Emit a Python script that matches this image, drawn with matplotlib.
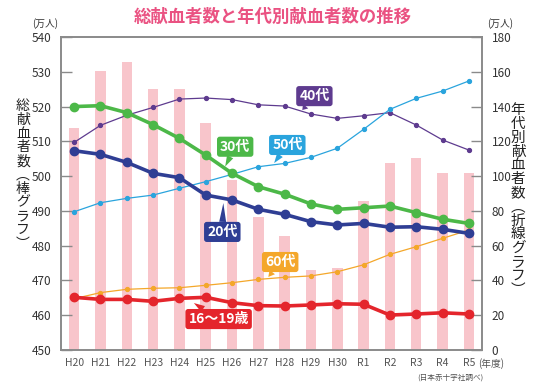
import matplotlib
matplotlib.use("Agg")
import matplotlib.pyplot as plt
import numpy as np

plt.rcParams['font.family'] = ['Noto Sans CJK JP', 'DejaVu Sans']

years = ["H20", "H21", "H22", "H23", "H24", "H25", "H26", "H27", "H28", "H29",
         "H30", "R1", "R2", "R3", "R4", "R5"]
total = [513.8, 530.2, 532.9, 525.0, 525.0, 515.4, 498.9, 488.2, 482.8, 473.0,
         473.5, 492.7, 503.9, 505.3, 500.8, 501.0]
age_40s = [119.4, 129.2, 135.0, 139.5, 144.3, 144.9, 144.0, 141.0, 140.3, 135.7,
           133.2, 134.7, 136.5, 129.4, 120.8, 115.0]
age_50s = [79.5, 84.7, 87.2, 89.1, 93.0, 96.8, 101.0, 105.4, 107.3, 110.8,
           116.0, 126.9, 138.4, 144.7, 148.9, 154.7]
age_30s = [140.0, 140.5, 136.5, 129.6, 121.7, 112.1, 101.6, 93.9, 89.6, 84.0,
           80.9, 81.8, 82.8, 79.0, 75.2, 72.8]
age_20s = [114.6, 112.5, 107.9, 101.6, 99.1, 89.1, 86.3, 80.9, 78.0, 73.8,
           71.9, 72.8, 70.6, 70.9, 69.4, 67.1]
age_60s = [29.5, 33.0, 34.9, 35.5, 35.8, 37.2, 38.7, 40.6, 41.8, 42.6,
           45.0, 49.0, 55.0, 59.4, 64.2, 69.0]
age_16_19 = [30.3, 29.1, 29.1, 28.0, 29.7, 30.3, 27.2, 25.5, 25.3, 25.9,
             26.6, 26.3, 20.1, 20.7, 21.4, 20.7]

left_ticks = [450, 460, 470, 480, 490, 500, 510, 520, 530, 540]
right_ticks = [0, 20, 40, 60, 80, 100, 120, 140, 160, 180]

title = "総献血者数と年代別献血者数の推移"
left_label = "総献血者数︵棒グラフ︶"
right_label = "年代別献血者数︵折線グラフ︶"

C_GREEN = "#4cb848"
C_NAVY = "#2f3e94"
C_PURPLE = "#5e3b8f"
C_BLUE = "#2aa4dd"
C_ORANGE = "#f4a72a"
C_RED = "#e4252c"
C_BAR = "#f8c5cb"
C_SPINE = "#8a8a8a"
C_TEXT = "#333333"

fig = plt.figure(figsize=(5.36, 3.91), dpi=100)
ax = fig.add_axes([61/536, 1-350/391, (482-61)/536, (350-37)/391])
ax2 = ax.twinx()

x = np.arange(len(years))
ax.bar(x, [t - 450 for t in total], bottom=450, width=0.4, color=C_BAR, zorder=1)
ax.set_ylim(450, 540)
ax.set_xlim(-0.5, 15.5)
ax.set_yticks(left_ticks)
ax.set_xticks(x)
ax.set_xticklabels(years)

ax2.set_ylim(0, 180)
ax2.set_yticks(right_ticks)

# thin lines
ax2.plot(x, age_40s, color=C_PURPLE, lw=0.9, marker='o', ms=2.8, zorder=3)
ax2.plot(x, age_50s, color=C_BLUE, lw=0.9, marker='o', ms=2.8, zorder=3)
ax2.plot(x, age_60s, color=C_ORANGE, lw=0.9, marker='o', ms=2.8, zorder=3)
# thick lines
ax2.plot(x, age_30s, color=C_GREEN, lw=2.6, marker='o', ms=6, zorder=4)
ax2.plot(x, age_20s, color=C_NAVY, lw=2.6, marker='o', ms=6, zorder=4)
ax2.plot(x, age_16_19, color=C_RED, lw=2.6, marker='o', ms=6, zorder=4)

for a in (ax, ax2):
    for s in a.spines.values():
        s.set_color(C_SPINE)
        s.set_linewidth(1.2)

ax.tick_params(axis='y', direction='in', length=8, width=1, color=C_SPINE,
               labelsize=8.5, labelcolor=C_TEXT, pad=7)
ax2.tick_params(axis='y', direction='in', length=8, width=1, color=C_SPINE,
                labelsize=8.5, labelcolor=C_TEXT, pad=7)
ax.tick_params(axis='x', length=0, labelsize=7.5, labelcolor="#555555", pad=6)

# boxed labels with wedge tails
labels = [
    ("30代", C_GREEN, (6.12, 116.9), (5.74, 105.5)),
    ("50代", C_BLUE, (8.1, 117.9), (7.6, 107.5)),
    ("40代", C_PURPLE, (9.13, 146.0), (8.67, 138.0)),
    ("20代", C_NAVY, (5.63, 67.9), (5.67, 84.5)),
    ("60代", C_ORANGE, (7.83, 50.6), (7.38, 42.0)),
    ("16～19歳", C_RED, (5.49, 17.8), (4.55, 27.0)),
]
for txt, col, pos, tip in labels:
    ax2.annotate(txt, xy=tip, xytext=pos, ha='center', va='center',
                 fontsize=10, fontweight='bold', color='white', zorder=6,
                 bbox=dict(boxstyle='round,pad=0.22,rounding_size=0.2', fc=col, ec='none'),
                 arrowprops=dict(arrowstyle='wedge,tail_width=0.5', fc=col, ec='none',
                                 shrinkA=0, shrinkB=0))

fig.text(273/536, 1-17/391, title, ha='center', va='center', fontsize=12.5,
         fontweight='bold', color="#ea5282")
fig.text(45/536, 1-24/391, "(万人)", ha='center', va='center', fontsize=7, color=C_TEXT)
fig.text(500/536, 1-24/391, "(万人)", ha='center', va='center', fontsize=7, color=C_TEXT)
fig.text(23/536, 1-175/391, "\n".join(left_label), ha='center', va='center',
         fontsize=10, color="#222222", linespacing=0.98)
fig.text(518/536, 1-200/391, "\n".join(right_label), ha='center', va='center',
         fontsize=10.5, color="#222222", linespacing=0.98)
fig.text(478/536, 1-363.5/391, "(年度)", ha='left', va='center', fontsize=7, color="#555555")
fig.text(450/536, 1-378/391, "(日本赤十字社調べ)", ha='center', va='center', fontsize=5.5, color="#555555")

fig.savefig("out.png", dpi=100, facecolor='white')
